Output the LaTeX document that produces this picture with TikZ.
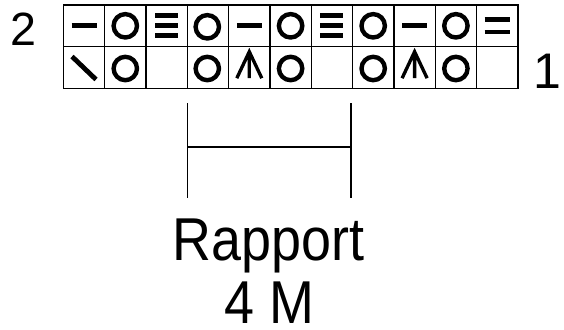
\documentclass[tikz,border=0pt]{standalone}
\usepackage{fontspec}
\setmainfont{Liberation Sans}
\newfontfamily\narrowfont[FakeStretch=0.89]{Liberation Sans}

\tikzset{
  chart/.style={black, line width=1pt},
  stitch/.style={black, line width=3.6pt},
  barone/.pic={\draw[stitch] (-12.5,0) -- (12.5,0);},
  bartwo/.pic={\draw[stitch] (-12.5,-6.2) -- (12.5,-6.2) (-12.5,6.2) -- (12.5,6.2);},
  barthree/.pic={\draw[stitch] (-11.5,-10) -- (11.5,-10) (-11.5,0) -- (11.5,0) (-11.5,10) -- (11.5,10);},
  ring/.pic={\draw[black, line width=3.3pt] (0,0) circle (11.7);},
  slant/.pic={\draw[stitch] (-12,-11.5) -- (12,11.5);},
  spike/.pic={\draw[black, line width=2.5pt] (-12.5,12) -- (0,-14.5) -- (12.5,12) (0,-14.5) -- (0,12);}
}

\begin{document}
\begin{tikzpicture}[x=0.75pt, y=-0.75pt]
  \useasboundingbox (0,0) rectangle (564,329);

    % Chart
    \draw[chart] (63.3,5) rectangle (518,88.3);
    \draw[chart] (63.3,46.7) -- (518,46.7);
    \foreach \i in {1,...,10}
      \draw[chart] (63.3+41.33*\i,5) -- (63.3+41.33*\i,88.3);

    % Row 2
    \pic at (84,25.8) {barone};
    \pic at (125.3,25.8) {ring};
    \pic at (166.6,25.8) {barthree};
    \pic at (207.3,26.8) {ring};
    \pic at (249.3,25.8) {barone};
    \pic at (290.6,25.8) {ring};
    \pic at (331.9,25.8) {barthree};
    \pic at (373.2,25.8) {ring};
    \pic at (414.6,25.8) {barone};
    \pic at (455.9,25.8) {ring};
    \pic at (497.2,25.8) {bartwo};

    % Row 1
    \pic at (84,68) {slant};
    \pic at (125.3,68.5) {ring};
    \pic at (207.3,68.5) {ring};
    \pic at (249.3,66.2) {spike};
    \pic at (290.6,68.5) {ring};
    \pic at (373.2,68.5) {ring};
    \pic at (414.6,66.2) {spike};
    \pic at (455.9,68.5) {ring};

    % Row numbers
    \node[anchor=base, inner sep=0pt, font=\fontsize{35}{40}\selectfont] (row2) at (23.8,45.7) {2};
    \node[anchor=base, inner sep=0pt, font=\fontsize{37.5}{42}\selectfont] (row1) at (547.4,88.3) {1};

    % Rapport
    \draw[black, line width=1.1pt] (187.5,103.3) -- (187.5,198);
    \draw[black, line width=1.1pt] (351,103.3) -- (351,198);
    \draw[black, line width=1.1pt] (187.5,147) -- (351,147);
    \node[anchor=base, inner sep=0pt, font=\fontsize{45.4}{48}\narrowfont] (rapport) at (268.3,260) {Rapport};
    \node[anchor=base, inner sep=0pt, font=\fontsize{45.4}{48}\narrowfont] (maschen) at (269.6,323.5) {4 M};


\end{tikzpicture}
\end{document}
